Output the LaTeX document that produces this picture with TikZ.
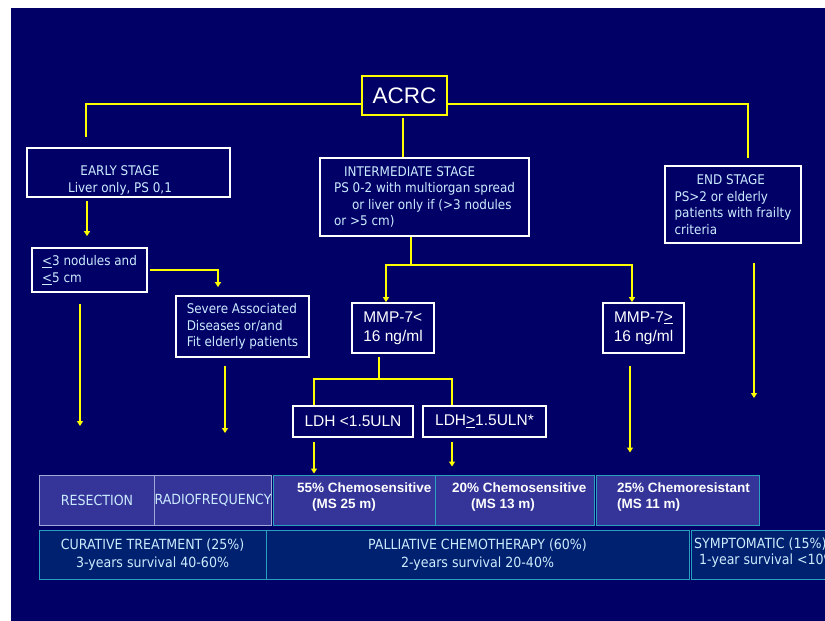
\documentclass[tikz,border=0pt]{standalone}
\usepackage{fontspec}
\usetikzlibrary{arrows.meta}
\newfontfamily\tahfam[FakeStretch=0.9]{DejaVu Sans}
\newfontfamily\arifam{Liberation Sans}
\newcommand\tahf{\tahfam\fontsize{13.3}{16.5}\selectfont}
\newcommand\tahb{\tahfam\fontsize{14}{18}\selectfont}
\newcommand\arim{\arifam\fontsize{15.5}{19}\selectfont}
\newcommand\arib{\arifam\bfseries\fontsize{13.5}{16}\selectfont}
\definecolor{mynavy}{HTML}{000066}
\definecolor{ltblue}{HTML}{CCECFF}
\definecolor{yel}{HTML}{FFFF00}
\definecolor{pur}{HTML}{353599}
\definecolor{lav}{HTML}{A0A8D8}
\definecolor{teal2}{HTML}{2AA0C0}
\definecolor{dkb}{HTML}{002070}
\tikzset{
 sbox/.style={draw=white, line width=1.8pt, fill=mynavy, inner sep=0pt, font=\tahf, text=ltblue},
 wbox/.style={draw=white, line width=1.8pt, fill=mynavy, inner sep=0pt, font=\arim, text=white},
 stxt/.style={inner sep=0pt, font=\tahf, text=ltblue},
 conn/.style={draw=yel, line width=2pt},
 arr/.style={conn, -{Triangle[length=5pt,width=6pt]}},
 tbox/.style={draw=lav, line width=1pt, fill=pur, inner sep=0pt, font=\tahb, text=ltblue},
 cbox/.style={draw=teal2, line width=1pt, fill=pur, inner sep=0pt},
 pbox/.style={draw=teal2, line width=1pt, fill=dkb, inner sep=0pt, font=\tahb, text=ltblue, align=center},
 ctxt/.style={font=\arib, text=white, align=left, anchor=west, inner sep=0pt},
}
\begin{document}
\begin{tikzpicture}[x=1pt,y=-1pt]
\clip (0,0) rectangle (825,621);
\fill[white] (0,0) rectangle (825,621);
\fill[mynavy] (11,8) rectangle (825,621);

% boxes
\node[wbox, draw=yel, font=\arifam\fontsize{22.5}{27}\selectfont, minimum width=85pt, minimum height=39pt] (acrc) at (404.5,95.5) {ACRC};
\node[sbox, minimum width=203pt, minimum height=49pt] (early) at (128.5,172.5) {};
\node[stxt, align=center] (early-t) at (120,180.5) {EARLY STAGE\\Liver only, PS 0,1};
\node[sbox, minimum width=209pt, minimum height=78pt, align=left] (inter) at (424.5,197)
 {\hspace*{10pt}INTERMEDIATE STAGE\\PS 0-2 with multiorgan spread\\\hspace*{18pt}or liver only if (>3 nodules\\or >5 cm)};
\node[sbox, minimum width=136pt, minimum height=77pt, align=left] (endst) at (733,204.5)
 {\hspace*{22pt}END STAGE\\PS>2 or elderly\\patients with frailty\\criteria};
\node[sbox, minimum width=115pt, minimum height=44pt, align=left] (nod) at (89.5,270)
 {\underline{<}3 nodules and\\\underline{<}5 cm};
\node[sbox, minimum width=133pt, minimum height=61pt, align=left] (severe) at (242.5,326.5)
 {Severe Associated\\Diseases or/and\\Fit elderly patients};
\node[wbox, minimum width=82pt, minimum height=50pt, align=left] (mmpl) at (393,328) {MMP-7<\\16 ng/ml};
\node[wbox, minimum width=81pt, minimum height=50pt, align=center] (mmpg) at (643.5,328) {MMP-7\underline{>}\\16 ng/ml};
\node[wbox, minimum width=120pt, minimum height=31pt] (ldhl) at (353,421.5) {LDH <1.5ULN};
\node[wbox, minimum width=123pt, minimum height=31pt] (ldhg) at (484.5,421.5) {LDH\underline{>}1.5ULN*};

% bottom row 1
\node[tbox, minimum width=116pt, minimum height=50pt] (resec) at (97,500) {RESECTION};
\node[tbox, minimum width=114pt, minimum height=50pt] (radio) at (213,500) {RADIOFREQUENCY};
\node[cbox, minimum width=162pt, minimum height=50pt] (c55) at (354,500) {};
\node[cbox, minimum width=159pt, minimum height=50pt] (c20) at (514.5,500) {};
\node[cbox, minimum width=163pt, minimum height=50pt] (c25) at (677.5,500) {};
\node[ctxt] (c55-t) at (297,497) {55\% Chemosensitive\\\hspace*{15pt}(MS 25 m)};
\node[ctxt] (c20-t) at (452,497) {20\% Chemosensitive\\\hspace*{19pt}(MS 13 m)};
\node[ctxt] (c25-t) at (617,497) {25\% Chemoresistant\\(MS 11 m)};

% bottom row 2
\node[pbox, minimum width=227pt, minimum height=49pt] (cur) at (152.5,554.5) {CURATIVE TREATMENT (25\%)\\3-years survival 40-60\%};
\node[pbox, minimum width=423pt, minimum height=49pt] (pal) at (477.5,554.5) {PALLIATIVE CHEMOTHERAPY (60\%)\\2-years survival 20-40\%};
\node[pbox, minimum width=160pt, minimum height=49pt] (sym) at (771,554.5) {};
\node[stxt, font=\tahfam\fontsize{14}{16}\selectfont, align=left, anchor=west] (sym-t) at (694,553)
 {SYMPTOMATIC (15\%)\\\hspace*{5pt}1-year survival <10\%};

% connectors
\coordinate (aL) at (86,137);
\coordinate (aR) at (748,158);
\draw[conn] ([yshift=-8.2pt]acrc.west) -| (aL);
\draw[conn] ([yshift=-8.2pt]acrc.east) -| (aR);
\draw[conn, shorten <=2pt] ([xshift=-1.5pt]acrc.south) -- ([xshift=-1.5pt]acrc.south |- inter.north);

\draw[arr, shorten <=3pt, shorten >=11pt] ([xshift=-2.5pt]nod.north |- early.south) -- ([xshift=-2.5pt]nod.north);
\draw[arr, shorten <=2pt, shorten >=8pt] (nod.east) -| ([xshift=-24.5pt]severe.north);
\coordinate (t1) at (80,426);
\draw[arr, shorten <=11pt] (t1 |- nod.south) -- (t1);
\coordinate (t2) at (225,433);
\draw[arr, shorten <=8pt] (t2 |- severe.south) -- (t2);

\coordinate (j1) at (410.5,265);
\draw[conn] (j1 |- inter.south) -- (j1);
\draw[arr] (j1) -| ([xshift=-7pt]mmpl.north);
\draw[arr] (j1) -| ([xshift=-11.5pt]mmpg.north);

\coordinate (j2) at (379,379);
\draw[conn, shorten <=3pt] (j2 |- mmpl.south) -- (j2);
\draw[conn] (j2) -| ([xshift=-39pt]ldhl.north);
\draw[conn] (j2) -| ([xshift=-32.5pt]ldhg.north);

\draw[arr, shorten <=4pt, shorten >=1pt] ([xshift=-39pt]ldhl.south) -- ([xshift=-39pt]ldhl.south |- c55.north);
\draw[arr, shorten <=4pt, shorten >=8pt] ([xshift=-32.5pt]ldhg.south) -- ([xshift=-32.5pt]ldhg.south |- c20.north);
\draw[arr, shorten <=12pt, shorten >=22pt] ([xshift=-13.5pt]mmpg.south) -- ([xshift=-13.5pt]mmpg.south |- c25.north);
\coordinate (t3) at (754,398);
\draw[arr, shorten <=19pt] (t3 |- endst.south) -- (t3);
\end{tikzpicture}
\end{document}
